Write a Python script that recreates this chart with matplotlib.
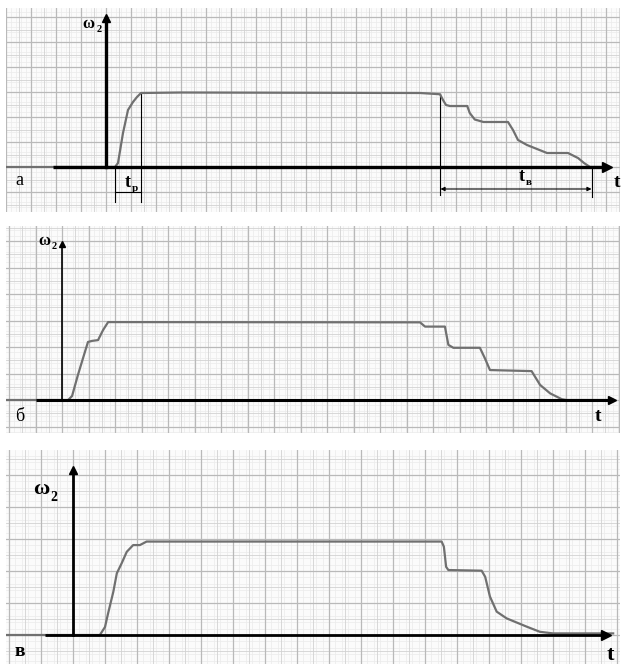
import numpy as np
import matplotlib
matplotlib.use("Agg")
import matplotlib.pyplot as plt

plt.rcParams['font.family'] = ['Liberation Serif', 'DejaVu Serif']

# Speed curves omega_2(t), in grid cells of each scanned sheet
# panel "а"
T_A = [-4.0, 0.36, 0.48, 0.68, 0.88, 1.08, 1.24, 1.40, 3.0, 12.56, 13.36, 13.48, 13.6,
       13.76, 14.45, 14.55, 14.75, 15.1, 16.08, 16.28, 16.48, 16.84, 17.64, 18.48, 18.88,
       19.12, 19.36, 19.96]
W_A = [0.0, 0.0, 0.16, 1.36, 2.28, 2.6, 2.8, 2.96, 2.98, 2.96, 2.91, 2.68, 2.48,
       2.44, 2.44, 2.16, 1.9, 1.8, 1.8, 1.48, 1.08, 0.88, 0.56, 0.56, 0.36,
       0.16, 0.0, 0.0]
# panel "б"
T_B = [-2.1, 0.23, 0.38, 0.6, 0.83, 0.98, 1.13, 1.36, 1.55, 1.74, 13.51, 13.70, 14.45,
       14.58, 14.77, 15.77, 15.96, 16.15, 17.72, 18.04, 18.42, 18.86, 19.04, 20.68]
W_B = [0.0, 0.0, 0.15, 0.94, 1.70, 2.19, 2.23, 2.26, 2.64, 2.94, 2.93, 2.77, 2.77,
       2.08, 1.97, 1.97, 1.57, 1.13, 1.09, 0.57, 0.25, 0.03, 0.0, 0.0]
# panel "в"
T_V = [-2.1, 0.84, 1.0, 1.10, 1.26, 1.37, 1.52, 1.68, 1.88, 2.09, 2.30, 11.52, 11.59,
       11.66, 11.73, 12.77, 12.88, 13.03, 13.24, 13.55, 14.18, 14.59, 15.0, 16.88]
W_V = [0.0, 0.0, 0.25, 0.69, 1.35, 1.93, 2.24, 2.60, 2.81, 2.81, 2.92, 2.92, 2.76,
       2.13, 2.03, 2.01, 1.82, 1.20, 0.73, 0.52, 0.26, 0.10, 0.05, 0.05]

PANEL_LABELS = ["а", "б", "в"]
Y_LABEL = "ω"
X_LABEL = "t"

PAPER = "#fbfbfb"
GRID_MAJOR = "#b9b9b9"
GRID_MID = "#d2d2d2"
GRID_MINOR = "#ebebeb"
CURVE = "#707070"

W_PX, H_PX = 623, 664
fig = plt.figure(figsize=(W_PX / 100, H_PX / 100), dpi=100, facecolor="white")


def make_axes(left, top, right, bottom, ox, oy, unit):
    # pixel box -> axes, data origin at (ox, oy) px, one grid cell = unit px
    ax = fig.add_axes([left / W_PX, 1 - bottom / H_PX,
                       (right - left) / W_PX, (bottom - top) / H_PX])
    ax.set_facecolor(PAPER)
    ax.set_xlim((left - ox) / unit, (right - ox) / unit)
    ax.set_ylim((oy - bottom) / unit, (oy - top) / unit)
    x0, x1 = ax.get_xlim()
    y0, y1 = ax.get_ylim()
    # millimetre paper: fine lines, half-cell lines, cell lines
    for v in np.arange(np.ceil(x0 * 5) / 5, x1, 0.2):
        ax.axvline(v, color=GRID_MINOR, lw=0.5, zorder=0)
    for v in np.arange(np.ceil(y0 * 5) / 5, y1, 0.2):
        ax.axhline(v, color=GRID_MINOR, lw=0.5, zorder=0)
    for v in np.arange(np.ceil(x0 * 2) / 2, x1, 0.5):
        ax.axvline(v, color=GRID_MID, lw=0.6, zorder=0)
    for v in np.arange(np.ceil(y0 * 2) / 2, y1, 0.5):
        ax.axhline(v, color=GRID_MID, lw=0.6, zorder=0)
    for v in np.arange(np.ceil(x0), x1, 1.0):
        ax.axvline(v, color=GRID_MAJOR, lw=0.9, zorder=0)
    for v in np.arange(np.ceil(y0), y1, 1.0):
        ax.axhline(v, color=GRID_MAJOR, lw=0.9, zorder=0)
    ax.set_xticks([])
    ax.set_yticks([])
    for s in ax.spines.values():
        s.set_visible(False)
    return ax


def axes_lines(ax, x_from, x_to, y_top, lw_x, lw_y, ms=7):
    ax.plot([x_from, x_to], [0, 0], color="black", lw=lw_x, solid_capstyle="butt", zorder=4)
    ax.plot([x_to], [0], marker=">", color="black", ms=ms, zorder=4)
    ax.plot([0, 0], [0, y_top], color="black", lw=lw_y, zorder=4)
    ax.plot([0], [y_top], marker="^", color="black", ms=ms * 0.8, zorder=4)


def sub_text(ax, x, y, main, sub, size):
    t = ax.text(x, y, main, fontsize=size, fontweight="bold", ha="right", va="center")
    ax.annotate(sub, xy=(x, y), xytext=(1.0, -size * 0.35), textcoords="offset points",
                fontsize=size * 0.62, fontweight="bold", ha="left", va="center")
    return t


# ---------------- panel а ----------------
ax = make_axes(6, 8, 620, 212, 106, 167, 25.0)
ax.plot(T_A, W_A, color=CURVE, lw=1.6, zorder=3)
axes_lines(ax, -2.12, 20.05, 5.96, 2.4, 2.4)
# start-up time t_p
ax.plot([0.36, 0.36], [0, -1.4], color="black", lw=0.8)
ax.plot([1.40, 1.40], [2.96, -1.4], color="black", lw=0.8)
ax.plot([0.36, 1.40], [-1.0, -1.0], color="black", lw=0.8)
sub_text(ax, 0.98, -0.62, "t", "р", 13)
# run-down time t_в
ax.plot([13.36, 13.36], [2.92, -1.12], color="black", lw=0.8)
ax.plot([19.44, 19.44], [0, -1.2], color="black", lw=0.8)
ax.annotate("", xy=(19.42, -0.88), xytext=(13.38, -0.88),
            arrowprops=dict(arrowstyle="<|-|>", lw=0.8, color="black", mutation_scale=6,
                            shrinkA=0, shrinkB=0))
sub_text(ax, 16.75, -0.38, "t", "в", 13)
sub_text(ax, -0.45, 5.72, Y_LABEL, "2", 12)
ax.text(20.45, -0.62, X_LABEL, fontsize=14, fontweight="bold", ha="center", va="center")
ax.text(-3.45, -0.55, PANEL_LABELS[0], fontsize=13, ha="center", va="center")

# ---------------- panel б ----------------
ax = make_axes(6, 226, 620, 433, 62, 400, 26.5)
ax.plot(T_B, W_B, color=CURVE, lw=1.6, zorder=3)
axes_lines(ax, -0.98, 20.75, 5.9, 2.2, 1.2, ms=6)
sub_text(ax, -0.45, 6.0, Y_LABEL, "2", 12)
ax.text(20.23, -0.64, X_LABEL, fontsize=14, fontweight="bold", ha="center", va="center")
ax.text(-1.6, -0.64, PANEL_LABELS[1], fontsize=13, ha="center", va="center")

# ---------------- panel в ----------------
ax = make_axes(6, 450, 620, 664, 73, 635, 32.0)
ax.plot(T_V, W_V, color=CURVE, lw=1.6, zorder=3)
axes_lines(ax, -0.88, 16.65, 5.15, 2.0, 2.0)
sub_text(ax, -0.75, 4.55, Y_LABEL, "2", 16)
ax.text(16.78, -0.62, X_LABEL, fontsize=16, fontweight="bold", ha="center", va="center")
ax.text(-1.66, -0.52, PANEL_LABELS[2], fontsize=14, fontweight="bold", ha="center", va="center")

fig.savefig("out.png", dpi=100, facecolor="white")
